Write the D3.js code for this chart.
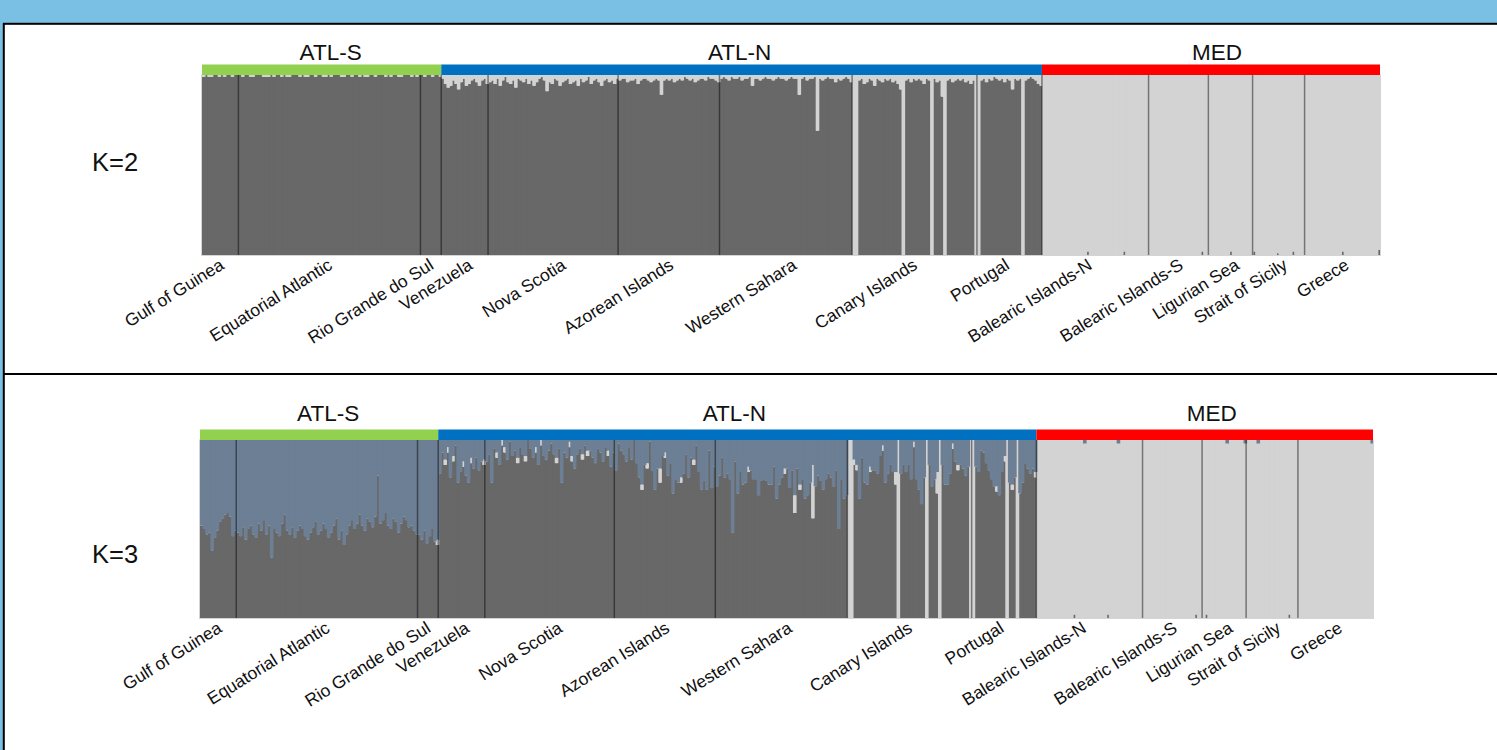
<!DOCTYPE html>
<html>
<head>
<meta charset="utf-8">
<script src="https://cdn.jsdelivr.net/npm/d3@7"></script>
<style>
  html, body { margin: 0; padding: 0; background: #79c0e4; }
  svg { display: block; }
  text { font-family: "Liberation Sans", Arial, sans-serif; fill: #111; }
</style>
</head>
<body>
<svg id="chart" width="1497" height="750"></svg>
<script>
// Sampling locations, in plotting order
const populations = [
  "Gulf of Guinea", "Equatorial Atlantic", "Rio Grande do Sul",
  "Venezuela", "Nova Scotia", "Azorean Islands", "Western Sahara", "Canary Islands", "Portugal",
  "Balearic Islands-N", "Balearic Islands-S", "Ligurian Sea", "Strait of Sicily", "Greece"
];
// Horizontal nudge of each location label relative to its population centre (px)
const labelNudge = [-1, -2, -2, 3, 8, 0, 6, -2, -5, -8, 0, 4, 4, 2];

// Regional groupings (number of consecutive populations in each)
const regionNames = ["ATL-S", "ATL-N", "MED"];
const regionSizes = [3, 6, 5];
const regionColors = ["#92d050", "#0070c0", "#ff0000"];

// Cluster colours
const clusterColors = { dark: "#686868", light: "#d3d3d3", blue: "#6c7f94" };

// K=2: membership (%) in the light cluster for each individual; the rest is the dark cluster
const k2Light = [
  [1,0,1,1,0,0,1,0,1,0,0,1,0,0],
  [0,1,0,0,1,1,0,0,0,1, 1,1,0,1,0,0,1,0,1,1, 0,0,0,1,0,1,1,0,0,1, 0,0,1,1,0,1,0,0,0,1,
   1,0,0,1,0,0,1,0,1,1, 0,0,1,0,0,0,1,0,1,0, 0,1,1,0,0,0,1,0,1,0],
  [0,1,0,0,1,0,0,1],
  [2,5,7,6,3,5,8,4,2,6,5,3,2,4,6,3,2,5],
  [4,3,5,2,6,3,1,4,5,3, 7,2,3,4,2,5,3,6,4,2, 1,3,9,4,5,2,3,6,4,3, 2,5,4,3,6,2,4,3,1,5,
   3,2,4,6,3,2,4,3,5,2],
  [3,2,2,4,3,3,2,5,3,2, 2,3,4,3,2,3,11,3,2,3, 2,4,3,2,3,1,2,3,2,4, 3,2,2,3,1,2,2,3,4],
  [2,1,2,3,1,2,2,1,3,2, 2,1,6,2,2,3,2,1,2,2, 3,2,1,2,2,3,2,1,2,2, 11,2,1,3,2,2,1,31,2,3,
   2,1,2,2,4,2,3,2,1,2, 4],
  [100,100,3,2,5,4,2,3,6,2, 3,4,2,3,2,4,3,5,8,100, 3,2,4,2,3,2,3,5,2,3, 100,2,4,3,12,100,3,2,4,3,
   2,3,2,4,3,5,3,100],
  [100,3,2,4,2,3,1,2,3,2, 4,2,3,8,2,3,2,100,3,2, 1,2,3,5,6],
  [100,100,100,100,100,100,100,100,100,100, 100,100,100,100,100,100,100,98,100,100,
   100,100,100,100,100,100,100,100,100,100, 100,98,100,100,100,100,100,100,100,100, 100],
  [100,100,100,100,100,100,100,100,100,100, 100,100,100,100,100,100,100,100,100,100, 98,100,100],
  [100,100,100,100,100,100,100,100,98,100, 100,100,100,100,100,100,100],
  [98,100,100,100,100,100,100,100,100,99, 100,100,100,100,100,98,100,100,100,100],
  [100,100,100,100,100,100,100,100,100,100, 100,100,100,100,98,100,100,100,100,100,
   100,100,100,100,100,100,100,100,97]
];

// K=3: membership (%) in the dark cluster for each individual
const k3Dark = [
  [52,50,47,48,38,45,49,54,56,58,59,57,46,49],
  [48,46,51,44,50,52,47,45,53,49, 55,47,52,34,50,48,46,53,58,49, 47,51,45,49,52,50,46,44,48,51,
   54,47,49,53,50,45,48,52,56,44, 49,41,47,52,55,50,53,58,52,49, 56,54,51,57,80,53,55,59,52,50,
   56,54,48,53,57,55,51,52,49,47],
  [47,44,49,42,46,50,43,41],
  [81,93,86,93,79,88,97,76,82,85,80,76,87,84,90,83,88,86],
  [88,92,76,95,90,86,97,93,89,99, 91,94,87,96,92,88,100,95,90,93, 86,97,91,89,94,98,92,87,95,76,
   93,90,96,88,84,92,95,89,97,91, 94,90,87,95,93,88,96,91,85,93],
  [83,98,94,92,88,96,89,100,87,79, 72,86,84,99,83,72,84,76,91,90, 80,87,70,78,76,76,81,92,79,90,
   86,97,82,72,77,72,94,73,85],
  [74,80,90,79,81,78,48,88,70,82, 75,76,82,83,78,78,69,77,78,77, 75,75,85,67,75,79,81,84,73,83,
   59,84,72,78,67,69,76,56,74,80, 77,72,78,81,79,74,83,50,78,67, 69],
  [0,0,86,83,67,90,76,75,82,83, 83,81,91,94,76,81,86,82,75,0, 81,86,82,86,78,96,78,72,64,79,
   0,86,74,78,70,0,86,75,75,81, 95,88,83,86,84,80,85,0],
  [0,85,82,94,93,87,83,78,74,71, 69,82,88,0,76,72,79,0,70,76, 87,84,81,84,79],
  [0,0,0,0,0,0,0,0,0,0, 0,0,0,0,2,0,0,0,0,0, 0,0,0,0,0,0,0,2,0,0, 0,0,0,0,0,0,0,0,0,0, 0],
  [0,0,0,0,0,0,0,0,0,0, 0,0,0,0,0,0,0,0,0,0, 2,0,0],
  [0,2,0,0,0,0,0,0,0,0, 0,0,0,0,0,0,0],
  [0,0,0,0,0,0,0,0,0,0, 0,0,0,0,0,0,2,0,0,0],
  [0,0,0,0,0,0,0,0,0,0, 0,0,0,0,0,0,0,0,0,0, 0,0,0,0,0,0,0,0,0]
];

// K=3: membership (%) in the light cluster; the remainder is the blue-grey cluster
const k3Light = [
  [0,0,0,0,0,0,0,0,0,0,0,0,0,0],
  [0,0,0,0,0,0,0,0,0,0, 0,0,0,0,0,0,0,0,0,0, 0,0,0,0,0,0,0,0,0,0, 0,0,0,0,0,0,0,0,0,0,
   0,0,0,0,0,0,0,0,0,0, 0,0,0,0,0,0,0,0,0,0, 0,0,0,0,0,0,0,0,0,0],
  [0,0,0,0,0,0,0,3],
  [0,0,3,3,0,3,0,0,0,3,0,0,3,0,0,0,0,3],
  [0,0,0,0,3,0,3,3,0,0, 0,0,3,0,0,3,0,0,0,3, 0,3,0,0,0,0,0,3,0,0, 0,0,3,3,0,0,0,3,0,3,
   0,0,0,0,0,0,0,3,0,0],
  [0,0,0,0,0,0,0,0,0,0, 3,0,3,0,0,0,0,8,0,3, 0,0,0,0,0,3,0,0,0,0, 3,0,0,0,0,0,0,0,0],
  [0,0,0,0,0,0,0,0,0,0, 0,0,3,0,0,0,0,0,0,0, 0,0,0,0,0,0,3,0,0,0, 10,0,3,0,0,0,0,30,0,0,
   0,0,0,0,0,0,0,0,0,0, 0],
  [100,100,3,3,0,0,0,0,3,0, 0,0,0,3,0,0,0,0,7,100, 0,0,0,0,0,3,0,0,0,0,
   100,0,0,0,12,100,0,0,0,0, 3,0,3,0,0,0,0,100],
  [100,0,0,0,0,0,0,0,0,3, 0,0,3,100,0,3,0,100,0,0, 0,0,0,0,3],
  [100,100,100,100,100,100,100,100,100,100, 100,100,100,100,98,100,100,100,98,100,
   100,100,100,100,100,100,100,98,100,100, 100,98,100,100,100,100,100,100,100,100, 100],
  [100,100,100,100,100,100,100,100,100,100, 100,100,100,100,100,100,100,100,100,100, 98,100,100],
  [100,98,100,100,100,100,100,100,100,98, 100,100,100,100,100,100,98],
  [100,100,100,100,98,100,100,100,100,100, 100,100,100,100,100,100,98,100,100,100],
  [100,100,100,100,100,100,100,100,100,100, 100,100,100,100,100,100,100,100,100,100,
   100,100,100,100,100,100,100,100,98]
];

const svg = d3.select("#chart");

// Page frame
svg.append("rect").attr("x", 0).attr("y", 0).attr("width", 1497).attr("height", 750).attr("fill", "#79c0e4");
svg.append("rect").attr("x", 3.8).attr("y", 23.8).attr("width", 1510).attr("height", 740)
  .attr("fill", "#ffffff").attr("stroke", "#000").attr("stroke-width", 2);
svg.append("line").attr("x1", 3).attr("x2", 1497).attr("y1", 374).attr("y2", 374)
  .attr("stroke", "#000").attr("stroke-width", 2);

// One entry per individual
const individuals = [];
populations.forEach((p, pi) => {
  k2Light[pi].forEach((v, i) => individuals.push({ id: pi + "-" + i, pop: pi, idx: i }));
});

const panels = [
  { k: "K=2", x0: 202, x1: 1380, top: 75, bottom: 255, kx: 92, ky: 171, groupGap: 15,
    titleShift: [9, -2, 6],
    row: d => ({ dark: 100 - k2Light[d.pop][d.idx], light: k2Light[d.pop][d.idx], blue: 0 }) },
  { k: "K=3", x0: 200, x1: 1373, top: 440, bottom: 618, kx: 92, ky: 563, groupGap: 19,
    titleShift: [9, -3, 7],
    row: d => {
      const dk = k3Dark[d.pop][d.idx], lt = k3Light[d.pop][d.idx];
      return { dark: dk, light: lt, blue: Math.max(0, 100 - dk - lt) };
    } }
];

panels.forEach((cfg, ci) => {
  const g = svg.append("g");
  const x = d3.scaleBand().domain(individuals.map(d => d.id)).range([cfg.x0, cfg.x1]).padding(0);
  const y = d3.scaleLinear().domain([0, 100]).range([cfg.bottom, cfg.top]);
  const bw = x.bandwidth();

  const rows = individuals.map(d => Object.assign({ id: d.id }, cfg.row(d)));
  const series = d3.stack().keys(["dark", "light", "blue"])(rows);

  // Clip bars to the plot area so that slightly widened bars do not spill over
  const clipId = "plotclip" + ci;
  svg.append("clipPath").attr("id", clipId).append("rect")
    .attr("x", cfg.x0).attr("y", cfg.top).attr("width", cfg.x1 - cfg.x0).attr("height", cfg.bottom - cfg.top);

  // Plot area outline
  g.append("rect").attr("x", cfg.x0 - 0.5).attr("y", cfg.top).attr("width", cfg.x1 - cfg.x0 + 1)
    .attr("height", cfg.bottom - cfg.top + 0.5).attr("fill", "none").attr("stroke", "#d4d4d4").attr("stroke-width", 1);

  // Each bar overlaps its right neighbour by one pixel to avoid anti-aliasing seams
  g.append("g").attr("clip-path", `url(#${clipId})`)
    .selectAll("g.layer").data(series).join("g")
    .attr("class", "layer")
    .attr("fill", s => clusterColors[s.key])
    .selectAll("rect").data(s => s.filter(v => v[1] > v[0])).join("rect")
    .attr("x", v => x(v.data.id))
    .attr("width", bw + 1)
    .attr("y", v => y(v[1]))
    .attr("height", v => y(v[0]) - y(v[1]));

  // Population extents
  const popStart = populations.map((p, pi) => x(pi + "-0"));
  const popEnd = populations.map((p, pi) => x(pi + "-" + (k2Light[pi].length - 1)) + bw);

  // Separators between populations
  g.selectAll("line.sep").data(d3.range(1, populations.length)).join("line")
    .attr("class", "sep")
    .attr("x1", pi => popStart[pi]).attr("x2", pi => popStart[pi])
    .attr("y1", cfg.top).attr("y2", cfg.bottom)
    .attr("stroke", "#000").attr("stroke-opacity", 0.45).attr("stroke-width", 1.5);

  // Regional bars and titles
  let first = 0;
  regionNames.forEach((name, ri) => {
    const last = first + regionSizes[ri] - 1;
    const xa = popStart[first], xb = popEnd[last];
    g.append("rect").attr("x", xa).attr("y", cfg.top - 10.5).attr("width", xb - xa).attr("height", 10.5)
      .attr("fill", regionColors[ri]);
    g.append("text").attr("x", (xa + xb) / 2 + cfg.titleShift[ri]).attr("y", cfg.top - cfg.groupGap)
      .attr("text-anchor", "middle").attr("font-size", 22.5).text(name);
    first = last + 1;
  });

  // Population labels
  g.selectAll("text.pop").data(populations).join("text")
    .attr("class", "pop")
    .attr("text-anchor", "end")
    .attr("font-size", 17.5)
    .attr("transform", (p, pi) => {
      const cx = (popStart[pi] + popEnd[pi]) / 2 + 6 + labelNudge[pi];
      return `translate(${cx},${cfg.bottom + 13}) rotate(-32)`;
    })
    .text(p => p);

  // K label
  g.append("text").attr("x", cfg.kx).attr("y", cfg.ky).attr("font-size", 25.5).text(cfg.k);
});
</script>
</body>
</html>
